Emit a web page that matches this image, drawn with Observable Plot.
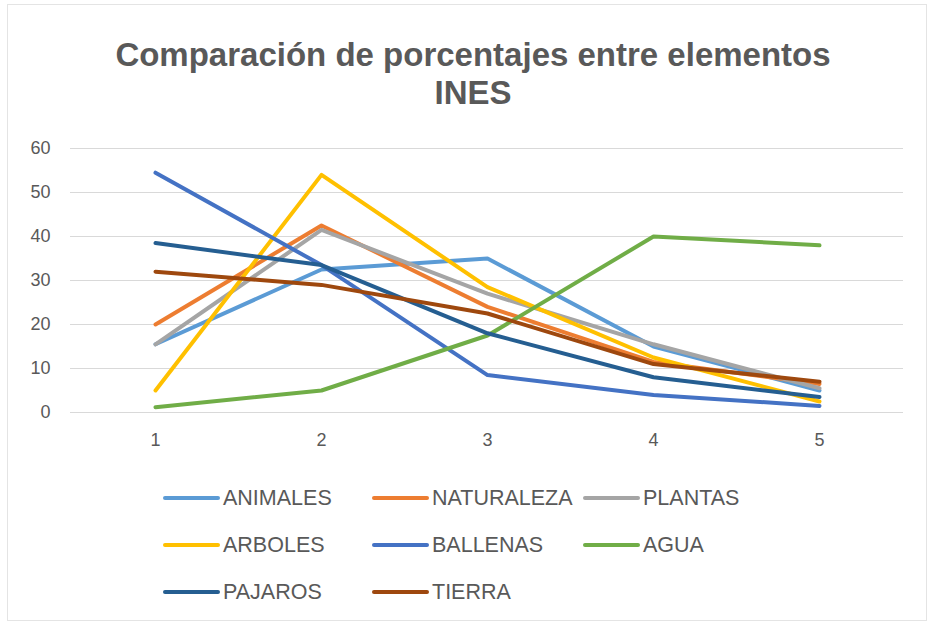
<!DOCTYPE html>
<html><head><meta charset="utf-8">
<script src="https://cdn.jsdelivr.net/npm/d3@7"></script>
<script src="https://cdn.jsdelivr.net/npm/@observablehq/plot@0.6"></script>
<style>
body{margin:0;background:#fff;font-family:"Liberation Sans",Arial,sans-serif;}
#wrap{position:relative;width:933px;height:626px;overflow:hidden;background:#fff;}
#frame{position:absolute;left:7px;top:4px;width:918px;height:615px;border:1px solid #e4e4e4;}
#title{position:absolute;left:0;top:36px;width:946px;text-align:center;font-weight:bold;font-size:33px;line-height:38px;color:#595959;}
#chart{position:absolute;left:0;top:120px;}
.lg{position:absolute;display:flex;align-items:center;height:24px;font-size:21.5px;color:#595959;white-space:nowrap;}
.lg span.sw{display:inline-block;width:57px;height:4px;border-radius:2px;margin-right:3px;}
</style></head><body>
<div id="wrap">
  <div id="frame"></div>
  <div id="title">Comparación de porcentajes entre elementos<br>INES</div>
  <div id="chart"></div>
  <div id="legend"></div>
</div>
<script>
const xCategories = [1, 2, 3, 4, 5];
const yTicks = [0, 10, 20, 30, 40, 50, 60];
const seriesNames = ["ANIMALES", "NATURALEZA", "PLANTAS", "ARBOLES", "BALLENAS", "AGUA", "PAJAROS", "TIERRA"];
const seriesColors = ["#5B9BD5", "#ED7D31", "#A5A5A5", "#FFC000", "#4472C4", "#70AD47", "#255E91", "#9E480E"];

const animales   = [15.5, 32.5, 35, 15, 5];
const naturaleza = [20, 42.5, 24, 11.5, 6.5];
const plantas    = [15.5, 41.5, 27, 15.5, 5.5];
const arboles    = [5, 54, 28.5, 12.5, 2.5];
const ballenas   = [54.5, 33.5, 8.5, 4, 1.5];
const agua       = [1.2, 5, 17.5, 40, 38];
const pajaros    = [38.5, 33.5, 18, 8, 3.5];
const tierra     = [32, 29, 22.5, 11, 7];

const seriesValues = [animales, naturaleza, plantas, arboles, ballenas, agua, pajaros, tierra];
const data = seriesNames.flatMap((name, i) =>
  xCategories.map((x, j) => ({series: name, x, value: seriesValues[i][j]})));

const chart = Plot.plot({
  width: 933,
  height: 340,
  marginTop: 28,
  marginBottom: 48,
  marginLeft: 70,
  marginRight: 30,
  style: {fontFamily: '"Liberation Sans", Arial, sans-serif', fontSize: "18px", color: "#595959", background: "transparent"},
  x: {type: "point", domain: xCategories, padding: 0.5, label: null},
  y: {domain: [0, 60], label: null},
  color: {domain: seriesNames, range: seriesColors},
  marks: [
    Plot.gridY(yTicks, {stroke: "#d9d9d9", strokeOpacity: 1, strokeWidth: 1}),
    Plot.axisY(yTicks, {tickSize: 0, tickPadding: 20, label: null}),
    Plot.axisX(xCategories, {tickSize: 0, tickPadding: 21, label: null}),
    Plot.lineY(data, {x: "x", y: "value", stroke: "series", z: "series", strokeWidth: 4, strokeLinejoin: "round", strokeLinecap: "round"})
  ]
});
document.getElementById("chart").appendChild(chart);

const legend = document.getElementById("legend");
const colLeft = [163, 372, 583];
const rowCenter = [498, 545, 592];
seriesNames.forEach((name, i) => {
  const d = document.createElement("div");
  d.className = "lg";
  d.style.left = colLeft[i % 3] + "px";
  d.style.top = (rowCenter[Math.floor(i / 3)] - 12) + "px";
  const sw = document.createElement("span");
  sw.className = "sw";
  sw.style.background = seriesColors[i];
  d.appendChild(sw);
  d.appendChild(document.createTextNode(name));
  legend.appendChild(d);
});
</script>
</body></html>
